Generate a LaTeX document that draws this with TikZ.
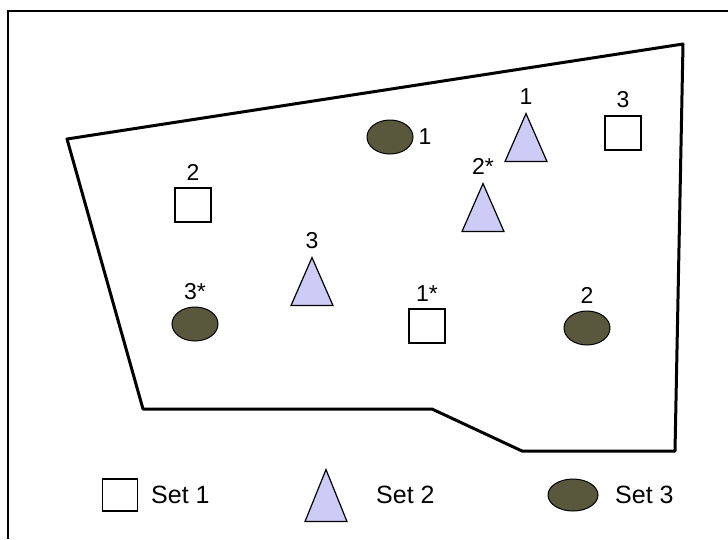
\documentclass[tikz,border=0pt]{standalone}
\usepackage{fontspec}
\setmainfont{Liberation Sans}
\usepackage{tikz}
\usetikzlibrary{shapes.geometric}

\definecolor{blobfill}{RGB}{90,88,60}
\definecolor{trifill}{RGB}{204,204,246}

\begin{document}
\begin{tikzpicture}[x=1pt, y=-1pt,
    every node/.style={font=\fontsize{23}{27}\selectfont},
    every label/.style={inner sep=0pt},
    label distance=7pt,
    sqr/.style={draw, line width=1.5pt, fill=white, minimum width=36pt, minimum height=34pt, inner sep=0pt},
    tri/.style={isosceles triangle, isosceles triangle stretches, shape border rotate=90, draw, line width=1.2pt, fill=trifill, minimum width=42pt, minimum height=48pt, inner sep=0pt, anchor=apex},
    blob/.style={ellipse, draw, line width=1pt, fill=blobfill, minimum width=46pt, minimum height=34pt, inner sep=0pt},
    legtext/.style={font=\fontsize{25}{30}\selectfont, inner sep=0pt, anchor=base west}]
    \useasboundingbox (0,0) rectangle (728,539);
    % Frame
    \draw[line width=2pt] (7.5,539) -- (7.5,11) -- (728,11);
    % Outline of the site
    \draw[line width=3pt, line join=round] (67,139) -- (683,44) -- (675,451) -- (522,451) -- (432,409) -- (143,409) -- cycle;
    % Set 1
    \node[sqr, label=above:2]  (sq2)  at (193,205) {};
    \node[sqr, label=above:3]  (sq3)  at (623,133) {};
    \node[sqr, label=above:1*] (sq1s) at (427,326) {};
    % Set 2
    \node[tri, label=above:1]  (tri1)  at (526,112) {};
    \node[tri, label=above:2*] (tri2s) at (483,182) {};
    \node[tri, label=above:3]  (tri3)  at (312,256) {};
    % Set 3
    \node[blob, label={[label distance=5pt]right:1}] (ell1)  at (390,137) {};
    \node[blob, label=above:3*] (ell3s) at (195,324) {};
    \node[blob, label=above:2]  (ell2)  at (587,328) {};
    % Legend
    \node[sqr, minimum height=32pt, minimum width=35pt] (legsq) at (120,495) {};
    \node[legtext] (legset1) at (151,503) {Set 1};
    \node[tri, minimum height=52pt] (legtri) at (326,468) {};
    \node[legtext] (legset2) at (376,503) {Set 2};
    \node[blob, minimum width=50pt, minimum height=32pt] (legell) at (573,495) {};
    \node[legtext] (legset3) at (615,503) {Set 3};
\end{tikzpicture}
\end{document}
